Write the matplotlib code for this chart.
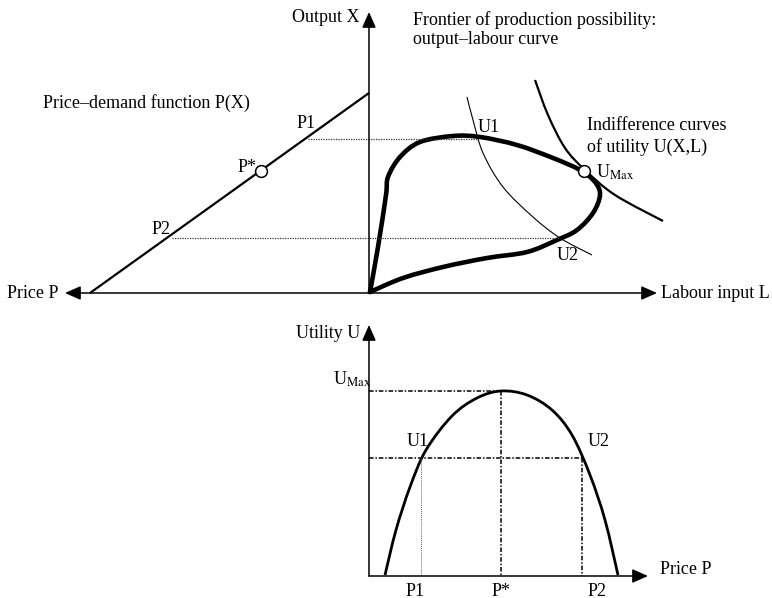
import numpy as np
import matplotlib
matplotlib.use('Agg')
import matplotlib.pyplot as plt
from matplotlib.path import Path
from matplotlib.patches import PathPatch

plt.rcParams['font.family'] = ['Liberation Serif', 'DejaVu Serif']
plt.rcParams['mathtext.fontset'] = 'stix'

# diagram drawn in a 772 x 598 canvas (y grows downward)
# --- upper panel: price-demand line and production frontier
ORIGIN_TOP = (369, 293)
DEMAND_L = [90, 369]
DEMAND_X = [293, 93]
P_STAR = (261, 171)
U_MAX_PT = (584, 171)

FRONTIER_L = [370, 378, 386, 388, 400, 420, 453, 480, 517, 553, 580, 595,
              600, 593, 577, 557, 527, 487, 443, 403, 370]
FRONTIER_X = [292, 247, 195, 177, 157, 142, 136, 137, 145, 158, 170, 182,
              195, 213, 230, 240, 252, 258, 267, 278, 292]

U1_L = [467, 473, 483, 503, 533, 560, 592]
U1_X = [97, 120, 153, 187, 217, 238, 255]
U2_L = [535, 548, 565, 585, 615, 663]
U2_X = [80, 115, 148, 170, 195, 221]

P1_GUIDE = (308, 478, 139)   # x from, x to, y
P2_GUIDE = (172, 560, 238)

# --- lower panel: utility as function of price
ORIGIN_BOT = (369, 576)
UTIL_P = [385, 396, 410, 426, 452, 477, 501, 527, 552, 572, 590, 605, 618]
UTIL_U = [575, 530, 487, 450, 416, 398, 391, 395, 410, 435, 475, 520, 575]
U_MAX_LEVEL = 391
U12_LEVEL = 458
PRICE_P1 = 421
PRICE_STAR = 501
PRICE_P2 = 582


def smooth_path(xs, ys):
    pts = np.column_stack([xs, ys]).astype(float)
    n = len(pts)
    verts = [pts[0]]
    codes = [Path.MOVETO]
    for i in range(n - 1):
        p0 = pts[i - 1] if i > 0 else pts[i]
        p1 = pts[i]
        p2 = pts[i + 1]
        p3 = pts[i + 2] if i + 2 < n else pts[i + 1]
        verts += [p1 + (p2 - p0) / 6, p2 - (p3 - p1) / 6, p2]
        codes += [Path.CURVE4] * 3
    return Path(verts, codes)


def arrow(ax, start, tip):
    ax.annotate('', xy=tip, xytext=start,
                arrowprops=dict(arrowstyle='-|>,head_length=0.95,head_width=0.42',
                                mutation_scale=10, lw=1.1, color='black',
                                shrinkA=0, shrinkB=0))


fig = plt.figure(figsize=(7.72, 5.98), dpi=100)
ax = fig.add_axes([0, 0, 1, 1])
ax.set_xlim(0, 772)
ax.set_ylim(598, 0)
ax.axis('off')

fs = 13

# upper axes
ox, oy = ORIGIN_TOP
arrow(ax, (ox, oy), (ox, 12))
arrow(ax, (ox, oy), (65, oy))
arrow(ax, (ox, oy), (657, oy))

ax.plot(DEMAND_L, DEMAND_X, color='black', lw=1.6, solid_capstyle='butt')
ax.plot([P1_GUIDE[0], P1_GUIDE[1]], [P1_GUIDE[2]] * 2, color='#333333', lw=0.9, ls=(0, (1, 1)))
ax.plot([P2_GUIDE[0], P2_GUIDE[1]], [P2_GUIDE[2]] * 2, color='#333333', lw=0.9, ls=(0, (1, 1)))

ax.add_patch(PathPatch(smooth_path(FRONTIER_L, FRONTIER_X), fill=False, lw=3.3, ec='black',
                       capstyle='round', joinstyle='round'))
ax.add_patch(PathPatch(smooth_path(U1_L, U1_X), fill=False, lw=0.8, ec='black'))
ax.add_patch(PathPatch(smooth_path(U2_L, U2_X), fill=False, lw=1.6, ec='black'))

ax.plot(*P_STAR, marker='o', ms=8.5, mfc='white', mec='black', mew=1.1, zorder=5)
ax.plot(*U_MAX_PT, marker='o', ms=8.5, mfc='white', mec='black', mew=1.1, zorder=5)

ax.text(360, 18, 'Output X', ha='right', va='center', fontsize=fs)
ax.text(413, 20, 'Frontier of production possibility:', ha='left', va='center', fontsize=fs)
ax.text(413, 40, 'output\u2013labour curve', ha='left', va='center', fontsize=fs)
ax.text(43, 103, 'Price\u2013demand function P(X)', ha='left', va='center', fontsize=fs)
ax.text(297, 124, 'P1', ha='left', va='center', fontsize=fs)
ax.text(238, 167, 'P*', ha='left', va='center', fontsize=fs)
ax.text(152, 230, 'P2', ha='left', va='center', fontsize=fs)
ax.text(7, 294, 'Price P', ha='left', va='center', fontsize=fs)
ax.text(661, 294, 'Labour input L', ha='left', va='center', fontsize=fs)
ax.text(478, 127, 'U1', ha='left', va='center', fontsize=fs)
ax.text(557, 255, 'U2', ha='left', va='center', fontsize=fs)
ax.text(587, 125, 'Indifference curves', ha='left', va='center', fontsize=fs)
ax.text(587, 147, 'of utility U(X,L)', ha='left', va='center', fontsize=fs)
ax.text(596, 172, r'U$_{\mathrm{Max}}$', ha='left', va='center', fontsize=fs)

# lower axes
bx, by = ORIGIN_BOT
arrow(ax, (bx, by), (bx, 325))
arrow(ax, (bx, by), (648, by))

dashdot = (0, (3, 1.2, 1, 1.2))
ax.plot([bx, PRICE_STAR], [U_MAX_LEVEL] * 2, color='black', lw=1.1, ls=dashdot)
ax.plot([PRICE_STAR] * 2, [U_MAX_LEVEL, by], color='black', lw=1.1, ls=dashdot)
ax.plot([bx, PRICE_P2], [U12_LEVEL] * 2, color='black', lw=1.1, ls=dashdot)
ax.plot([PRICE_P2] * 2, [U12_LEVEL, by], color='black', lw=1.1, ls=dashdot)
ax.plot([PRICE_P1] * 2, [U12_LEVEL, by], color='#666666', lw=0.7, ls=(0, (1, 1)))

ax.add_patch(PathPatch(smooth_path(UTIL_P, UTIL_U), fill=False, lw=2, ec='black'))

ax.text(360, 333, 'Utility U', ha='right', va='center', fontsize=fs)
ax.text(333, 379, r'U$_{\mathrm{Max}}$', ha='left', va='center', fontsize=fs)
ax.text(407, 442, 'U1', ha='left', va='center', fontsize=fs)
ax.text(588, 442, 'U2', ha='left', va='center', fontsize=fs)
ax.text(660, 570, 'Price P', ha='left', va='center', fontsize=fs)
ax.text(PRICE_P1 - 6, 591, 'P1', ha='center', va='center', fontsize=fs)
ax.text(PRICE_STAR, 591, 'P*', ha='center', va='center', fontsize=fs)
ax.text(PRICE_P2 + 15, 591, 'P2', ha='center', va='center', fontsize=fs)

fig.savefig('out.png', dpi=100, facecolor='white')
